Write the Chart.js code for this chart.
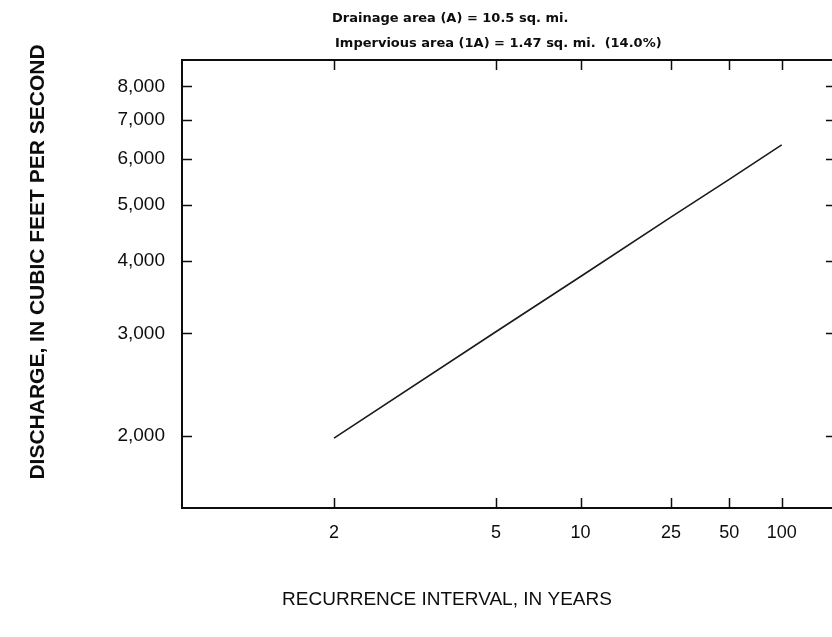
<!doctype html>
<html lang="en">
<head>
  <meta charset="UTF-8">
  <title>Flood frequency</title>
  <script src="https://cdn.jsdelivr.net/npm/chart.js"></script>
  <style>
    html, body {
      margin: 0;
      padding: 0;
      background: #fff;
      overflow: hidden;
    }

    #chart_01 {
      display: block;
    }
  </style>
</head>
<body>
  <canvas id="chart_01" width="840" height="637"></canvas>
  <script type="application/javascript">
    const years = [2, 5, 10, 25, 50, 100]
    const discharge = [1980, 3020, 3760, 4760, 5530, 6340]
    const x_ticks = [2, 5, 10, 25, 50, 100]
    const y_ticks = [2000, 3000, 4000, 5000, 6000, 7000, 8000]
    const header_lines = [
      'Drainage area (A) = 10.5 sq. mi.',
      'Impervious area (1A) = 1.47 sq. mi.  (14.0%)'
    ]
    const x_title = 'RECURRENCE INTERVAL, IN YEARS'
    const y_title = 'DISCHARGE, IN CUBIC FEET PER SECOND'

    // normal deviate for a recurrence interval T (exceedance prob 1/T)
    const z_of = T => {
      const q = 1 / T
      const p = q <= 0.5 ? q : 1 - q
      const t = Math.sqrt(-2 * Math.log(p))
      const z = t - (2.515517 + 0.802853 * t + 0.010328 * t * t) /
        (1 + 1.432788 * t + 0.189269 * t * t + 0.001308 * t * t * t)
      return q <= 0.5 ? z : -z
    }

    const ink = '#0d0d0d'
    Chart.defaults.font.family = '"Liberation Sans", Arial, sans-serif'
    Chart.defaults.color = ink

    // box round the plot, inward tick marks and the text blocks
    const frame = {
      id: 'frame',
      afterDatasetsDraw(chart) {
        const {ctx, chartArea: {left, right, top, bottom}, scales: {x, y}} = chart
        ctx.save()
        ctx.strokeStyle = ink
        ctx.lineWidth = 2
        ctx.strokeRect(left, top, right - left, bottom - top)

        ctx.lineWidth = 1.5
        ctx.beginPath()
        x.ticks.forEach(t => {
          const px = Math.round(x.getPixelForValue(t.value)) + 0.5
          ctx.moveTo(px, bottom)
          ctx.lineTo(px, bottom - 10)
          ctx.moveTo(px, top)
          ctx.lineTo(px, top + 10)
        })
        y.ticks.forEach(t => {
          const py = Math.round(y.getPixelForValue(t.value)) + 0.5
          ctx.moveTo(left, py)
          ctx.lineTo(left + 10, py)
          ctx.moveTo(right, py)
          ctx.lineTo(right - 10, py)
        })
        ctx.stroke()

        ctx.fillStyle = ink
        ctx.textAlign = 'left'
        ctx.textBaseline = 'alphabetic'
        ctx.font = 'bold 13px "DejaVu Sans"'
        ctx.fillText(header_lines[0], 332, 22)
        ctx.fillText(header_lines[1], 335, 47)

        ctx.textAlign = 'center'
        ctx.textBaseline = 'middle'
        ctx.font = '19px "Liberation Sans"'
        ctx.fillText(x_title, 447, 600)

        ctx.translate(38, 262)
        ctx.rotate(-Math.PI / 2)
        ctx.font = 'bold 21px "Liberation Sans"'
        ctx.fillText(y_title, 0, 0)
        ctx.restore()
      }
    }

    const config = {
      type: 'line',
      data: {
        datasets: [{
          label: 'Discharge',
          data: years.map((T, i) => ({x: z_of(T), y: discharge[i]})),
          borderColor: '#1a1a1a',
          borderWidth: 1.6,
          pointRadius: 0,
          tension: 0,
          fill: false
        }]
      },
      options: {
        responsive: false,
        devicePixelRatio: 1,
        animation: false,
        layout: {
          padding: {top: 60, right: 4, left: 0, bottom: 0}
        },
        plugins: {
          legend: {display: false},
          tooltip: {enabled: false}
        },
        scales: {
          x: {
            type: 'linear',
            min: -0.79,
            max: 2.609,
            grid: {display: false, drawTicks: false},
            border: {display: false},
            afterBuildTicks: s => {
              s.ticks = x_ticks.map(T => ({value: z_of(T)}))
            },
            afterFit: s => {
              s.height = 129
            },
            ticks: {
              autoSkip: false,
              maxRotation: 0,
              padding: 14,
              font: {size: 18},
              callback: (v, i) => String(x_ticks[i])
            }
          },
          y: {
            type: 'logarithmic',
            min: 1500,
            max: 8880,
            grid: {display: false, drawTicks: false},
            border: {display: false},
            afterBuildTicks: s => {
              s.ticks = y_ticks.map(v => ({value: v}))
            },
            afterFit: s => {
              s.width = 182
            },
            ticks: {
              autoSkip: false,
              padding: 17,
              font: {size: 19},
              callback: v => v.toLocaleString('en-US')
            }
          }
        }
      },
      plugins: [frame]
    }

    const myChart = new Chart(document.getElementById('chart_01'), config)
  </script>
</body>
</html>
